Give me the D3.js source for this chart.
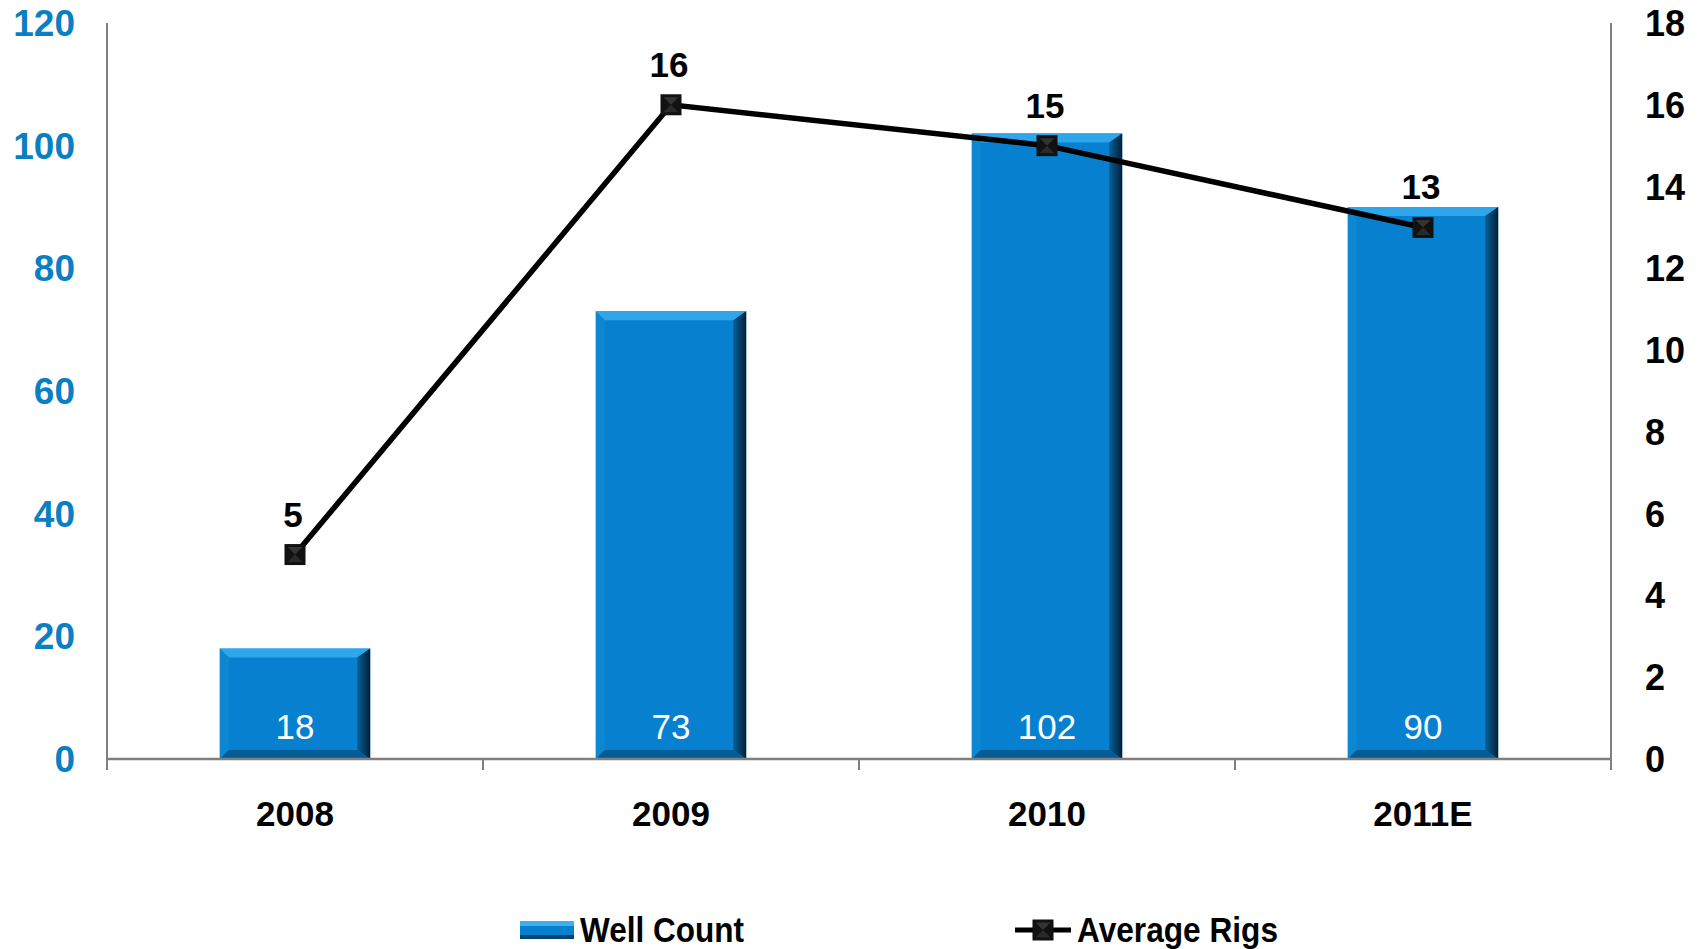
<!DOCTYPE html>
<html>
<head>
<meta charset="utf-8">
<script src="https://cdnjs.cloudflare.com/ajax/libs/d3/7.8.5/d3.min.js"></script>
<style>
  body { margin: 0; background: #fff; }
  text { font-family: "Liberation Sans", Arial, sans-serif; }
</style>
</head>
<body>
<div id="chart"></div>
<script>
// chart data
var years = ["2008", "2009", "2010", "2011E"];
var wellCount = [18, 73, 102, 90];
var avgRigs = [5, 16, 15, 13];
var leftTicks = [0, 20, 40, 60, 80, 100, 120];
var rightTicks = [0, 2, 4, 6, 8, 10, 12, 14, 16, 18];

var svgWidth = 1700;
var svgHeight = 949;

var margin = { top: 23, right: 89, bottom: 190, left: 107 };
var width = svgWidth - margin.left - margin.right;
var height = svgHeight - margin.top - margin.bottom;

var svg = d3.select("#chart")
  .append("svg")
  .attr("width", svgWidth)
  .attr("height", svgHeight);

var defs = svg.append("defs");
var rg = defs.append("linearGradient").attr("id", "rightEdge")
  .attr("x1", "0").attr("x2", "1").attr("y1", "0").attr("y2", "0");
rg.append("stop").attr("offset", "0").attr("stop-color", "#06609c");
rg.append("stop").attr("offset", "1").attr("stop-color", "#021f33");

var chartGroup = svg.append("g")
  .attr("transform", `translate(${margin.left}, ${margin.top})`);

// scales
var xBand = d3.scaleBand()
  .domain(years)
  .range([0, width]);

var barW = xBand.bandwidth() * 0.4;

var yLeft = d3.scaleLinear()
  .domain([0, 120])
  .range([height, 0]);

var yRight = d3.scaleLinear()
  .domain([0, 18])
  .range([height, 0]);

// bars with a bevel look
var bev = 9;
var bars = chartGroup.selectAll(".bar")
  .data(years.map((y, i) => ({ year: y, v: wellCount[i] })))
  .enter()
  .append("g")
  .attr("class", "bar");

bars.each(function(d) {
  var g = d3.select(this);
  var x0 = xBand(d.year) + (xBand.bandwidth() - barW) / 2;
  var x1 = x0 + barW;
  var y0 = yLeft(d.v);
  var y1 = yLeft(0);
  var rb = bev + 4;
  g.append("rect")
    .attr("x", x0).attr("y", y0)
    .attr("width", barW).attr("height", y1 - y0)
    .attr("fill", "#0781cf");
  // top
  g.append("polygon")
    .attr("points", [[x0, y0], [x1, y0], [x1 - rb, y0 + bev], [x0 + bev, y0 + bev]].join(" "))
    .attr("fill", "#2fa6ec");
  // left
  g.append("polygon")
    .attr("points", [[x0, y0], [x0 + bev, y0 + bev], [x0 + bev, y1 - bev], [x0, y1]].join(" "))
    .attr("fill", "#0e87d3");
  // right
  g.append("polygon")
    .attr("points", [[x1, y0], [x1, y1], [x1 - rb, y1 - bev], [x1 - rb, y0 + bev]].join(" "))
    .attr("fill", "url(#rightEdge)");
  // bottom
  g.append("polygon")
    .attr("points", [[x0, y1], [x1, y1], [x1 - rb, y1 - bev], [x0 + bev, y1 - bev]].join(" "))
    .attr("fill", "#055b93");
});

// bar value labels
chartGroup.selectAll(".barLabel")
  .data(wellCount)
  .enter()
  .append("text")
  .attr("x", (d, i) => xBand(years[i]) + xBand.bandwidth() / 2)
  .attr("y", yLeft(0) - 20)
  .attr("text-anchor", "middle")
  .attr("fill", "#fff")
  .style("font-size", "35px")
  .text(d => d);

// axes
var axisColor = "#808080";

chartGroup.append("line")
  .attr("x1", 0).attr("x2", width)
  .attr("y1", height).attr("y2", height)
  .attr("stroke", axisColor).attr("stroke-width", 2.5);

chartGroup.append("line")
  .attr("x1", 0).attr("x2", 0)
  .attr("y1", 0).attr("y2", height + 11)
  .attr("stroke", axisColor).attr("stroke-width", 2);

chartGroup.append("line")
  .attr("x1", width).attr("x2", width)
  .attr("y1", 0).attr("y2", height + 11)
  .attr("stroke", axisColor).attr("stroke-width", 2);

// x tick marks at band edges
chartGroup.selectAll(".xtick")
  .data(years.slice(1))
  .enter()
  .append("line")
  .attr("x1", d => xBand(d)).attr("x2", d => xBand(d))
  .attr("y1", height).attr("y2", height + 11)
  .attr("stroke", axisColor).attr("stroke-width", 2);

// x labels
chartGroup.selectAll(".xlabel")
  .data(years)
  .enter()
  .append("text")
  .attr("x", d => xBand(d) + xBand.bandwidth() / 2)
  .attr("y", height + 67)
  .attr("text-anchor", "middle")
  .style("font-size", "35px")
  .style("font-weight", "bold")
  .attr("fill", "#000")
  .text(d => d);

// left tick labels
chartGroup.selectAll(".ylabel")
  .data(leftTicks)
  .enter()
  .append("text")
  .attr("x", -32)
  .attr("y", d => yLeft(d) + 13)
  .attr("text-anchor", "end")
  .style("font-size", "37px")
  .style("font-weight", "bold")
  .attr("fill", "#0a7fc4")
  .text(d => d);

// right tick labels
chartGroup.selectAll(".y2label")
  .data(rightTicks)
  .enter()
  .append("text")
  .attr("x", width + 34)
  .attr("y", d => yRight(d) + 13)
  .attr("text-anchor", "start")
  .style("font-size", "36px")
  .style("font-weight", "bold")
  .attr("fill", "#000")
  .text(d => d);

// line
var line = d3.line()
  .x((d, i) => xBand(years[i]) + xBand.bandwidth() / 2)
  .y(d => yRight(d));

chartGroup.append("path")
  .datum(avgRigs)
  .attr("d", line)
  .attr("fill", "none")
  .attr("stroke", "#000")
  .attr("stroke-width", 5.5);

// markers
function marker(g, cx, cy, s) {
  g.append("rect")
    .attr("x", cx - s / 2).attr("y", cy - s / 2)
    .attr("width", s).attr("height", s)
    .attr("fill", "#111");
  g.append("polygon")
    .attr("points", [[cx - s / 2 + 3, cy - s / 2 + 3], [cx + s / 2 - 3, cy - s / 2 + 3], [cx, cy]].join(" "))
    .attr("fill", "#333");
  g.append("polygon")
    .attr("points", [[cx - s / 2 + 3, cy + s / 2 - 3], [cx + s / 2 - 3, cy + s / 2 - 3], [cx, cy]].join(" "))
    .attr("fill", "#2a2a2a");
}

avgRigs.forEach(function(v, i) {
  marker(chartGroup, xBand(years[i]) + xBand.bandwidth() / 2, yRight(v), 21);
});

// line labels
chartGroup.selectAll(".lineLabel")
  .data(avgRigs)
  .enter()
  .append("text")
  .attr("x", (d, i) => xBand(years[i]) + xBand.bandwidth() / 2 - 2)
  .attr("y", d => yRight(d) - 28)
  .attr("text-anchor", "middle")
  .style("font-size", "35px")
  .style("font-weight", "bold")
  .attr("fill", "#000")
  .text(d => d);

// legend
var legend = svg.append("g");
var ly = 930;

var sw = legend.append("g");
sw.append("rect").attr("x", 520).attr("y", ly - 9).attr("width", 54).attr("height", 18).attr("fill", "#0781cf");
sw.append("rect").attr("x", 520).attr("y", ly - 9).attr("width", 54).attr("height", 5).attr("fill", "#3fb0ef");
sw.append("rect").attr("x", 520).attr("y", ly + 5).attr("width", 54).attr("height", 4).attr("fill", "#04436e");

legend.append("text")
  .attr("x", 580).attr("y", ly + 12)
  .style("font-size", "35px")
  .style("font-weight", "bold")
  .attr("textLength", 164)
  .attr("lengthAdjust", "spacingAndGlyphs")
  .text("Well Count");

legend.append("line")
  .attr("x1", 1015).attr("x2", 1071)
  .attr("y1", ly).attr("y2", ly)
  .attr("stroke", "#000").attr("stroke-width", 5);
marker(legend, 1043, ly, 21);

legend.append("text")
  .attr("x", 1077).attr("y", ly + 12)
  .style("font-size", "35px")
  .style("font-weight", "bold")
  .attr("textLength", 201)
  .attr("lengthAdjust", "spacingAndGlyphs")
  .text("Average Rigs");
</script>
</body>
</html>
